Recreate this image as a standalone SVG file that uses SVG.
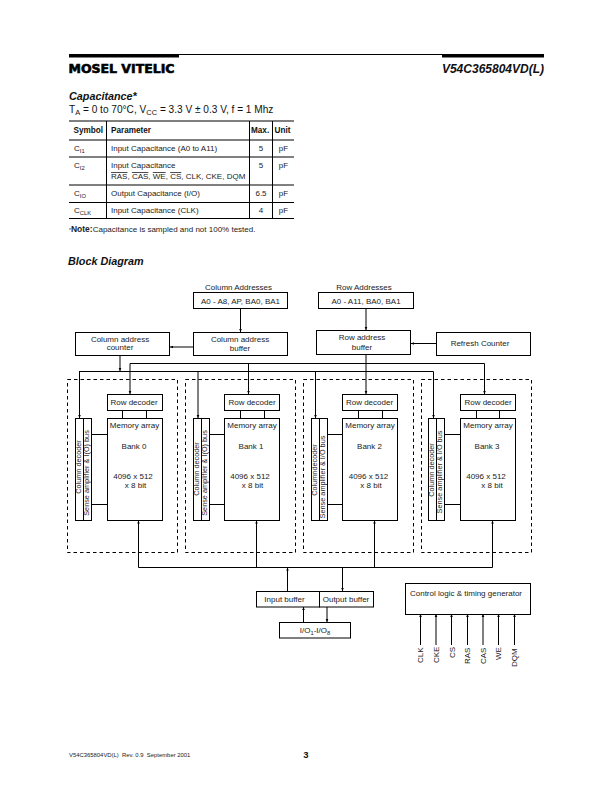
<svg xmlns="http://www.w3.org/2000/svg" width="611" height="787" viewBox="0 0 611 787">
<style>
text{font-family:"Liberation Sans",Arial,sans-serif;fill:#222;font-size:8px}
.m{text-anchor:middle}
.h{font-weight:bold;font-size:8.2px;fill:#111}
.r{font-size:7.3px}
.b{fill:#fff;stroke:#000;stroke-width:1}
.d{fill:none;stroke:#000;stroke-width:1;stroke-dasharray:3.5 3}
.c line,.c path{fill:none;stroke:#000;stroke-width:1}
.a{marker-end:url(#ah)}
.t line{stroke:#000;stroke-width:1}
.sub{font-size:5.8px}
</style>
<defs><marker id="ah" markerUnits="userSpaceOnUse" markerWidth="4" markerHeight="4" refX="3" refY="2" orient="auto"><path d="M0 .7L3 2L0 3.3Z" fill="#000"/></marker></defs>
<rect width="611" height="787" fill="#fff"/>
<g id="header">
<rect x="69" y="54" width="110" height="3.5" fill="#000"/>
<rect x="442" y="54" width="102" height="3.5" fill="#000"/>
<line x1="69" y1="54.5" x2="544" y2="54.5" stroke="#000" stroke-width="1"/>
<text x="68.5" y="73" textLength="106" lengthAdjust="spacingAndGlyphs" style="font-family:'DejaVu Sans',sans-serif;font-weight:bold;font-size:12px;fill:#000;stroke:#000;stroke-width:.6">MOSEL VITELIC</text>
<text x="544" y="73" text-anchor="end" style="font-weight:bold;font-style:italic;font-size:12px;fill:#111">V54C365804VD(L)</text>
</g>
<g id="capacitance">
<text x="69" y="100" style="font-weight:bold;font-style:italic;font-size:10.8px;fill:#111">Capacitance*</text>
<text x="69" y="113" style="font-size:10.1px;fill:#111">T<tspan dy="2" style="font-size:7.5px">A</tspan><tspan dy="-2"> = 0 to 70°C, V</tspan><tspan dy="2" style="font-size:7.5px">CC</tspan><tspan dy="-2"> = 3.3 V ± 0.3 V, f = 1 Mhz</tspan></text>
<g class="t">
<line x1="69" y1="121" x2="294" y2="121"/><line x1="69" y1="140" x2="294" y2="140"/><line x1="69" y1="157" x2="294" y2="157"/><line x1="69" y1="185" x2="294" y2="185"/><line x1="69" y1="202.5" x2="294" y2="202.5"/><line x1="69" y1="218.5" x2="294" y2="218.5"/>
<line x1="106.5" y1="121" x2="106.5" y2="218.5"/><line x1="249.5" y1="121" x2="249.5" y2="218.5"/><line x1="272.5" y1="121" x2="272.5" y2="218.5"/>
</g>
<text x="73.5" y="133" class="h">Symbol</text><text x="111" y="133" class="h">Parameter</text><text x="251" y="133" class="h">Max.</text><text x="274.5" y="133" class="h">Unit</text>
<text x="74" y="151">C<tspan dy="2" class="sub">I1</tspan></text><text x="111" y="151">Input Capacitance (A0 to A11)</text><text x="261" y="151" class="m">5</text><text x="283.5" y="151" class="m">pF</text>
<text x="74" y="168">C<tspan dy="2" class="sub">I2</tspan></text><text x="111" y="168">Input Capacitance</text><text x="261" y="168" class="m">5</text><text x="283.5" y="168" class="m">pF</text>
<text x="111" y="179"><tspan text-decoration="overline">RAS</tspan>, <tspan text-decoration="overline">CAS</tspan>, <tspan text-decoration="overline">WE</tspan>, <tspan text-decoration="overline">CS</tspan>, CLK, CKE, DQM</text>
<text x="74" y="196">C<tspan dy="2" class="sub">IO</tspan></text><text x="111" y="196">Output Capacitance (I/O)</text><text x="261" y="196" class="m">6.5</text><text x="283.5" y="196" class="m">pF</text>
<text x="74" y="213">C<tspan dy="2" class="sub">CLK</tspan></text><text x="111" y="213">Input Capacitance (CLK)</text><text x="261" y="213" class="m">4</text><text x="283.5" y="213" class="m">pF</text>
<text x="69" y="232"><tspan style="font-size:5px">*</tspan><tspan style="font-weight:bold;font-size:8.5px">Note:</tspan>Capacitance is sampled and not 100% tested.</text>
<text x="68" y="265" style="font-weight:bold;font-style:italic;font-size:10.8px;fill:#111">Block Diagram</text>
</g>
<g id="connectors" class="c">
<line x1="240.5" y1="308" x2="240.5" y2="332" class="a"/>
<line x1="193" y1="347" x2="170" y2="347" class="a"/>
<line x1="366" y1="308" x2="366" y2="330" class="a"/>
<line x1="436" y1="343.5" x2="411" y2="343.5" class="a"/>
<line x1="120" y1="355" x2="120" y2="371" class="a"/>
<line x1="130" y1="363.5" x2="484.5" y2="363.5"/>
<line x1="79" y1="371.5" x2="433.5" y2="371.5"/>
<line x1="366" y1="354" x2="366" y2="394" class="a"/>
<line x1="130" y1="363.5" x2="130" y2="394" class="a"/>
<line x1="248.5" y1="363.5" x2="248.5" y2="394" class="a"/>
<line x1="484.5" y1="363.5" x2="484.5" y2="394" class="a"/>
<line x1="79.5" y1="371.5" x2="79.5" y2="418" class="a"/>
<line x1="198" y1="371.5" x2="198" y2="418" class="a"/>
<line x1="315.5" y1="371.5" x2="315.5" y2="418" class="a"/>
<line x1="433.5" y1="371.5" x2="433.5" y2="418" class="a"/>
<path d="M122.5 410V418M146.5 410V418M240.5 410V418M264.5 410V418M358.5 410V418M382.5 410V418M476.5 410V418M499.5 410V418"/>
<path d="M91.5 434.5H107M91.5 504.5H107M209.5 434.5H225M209.5 504.5H225M326.5 434.5H342M326.5 504.5H342M444.5 434.5H460M444.5 504.5H460"/>
<line x1="138.5" y1="567.5" x2="492.5" y2="567.5"/>
<line x1="138.5" y1="567.5" x2="138.5" y2="520.5" class="a"/>
<line x1="256.5" y1="567.5" x2="256.5" y2="520.5" class="a"/>
<line x1="374.5" y1="567.5" x2="374.5" y2="520.5" class="a"/>
<line x1="492.5" y1="567.5" x2="492.5" y2="520.5" class="a"/>
<line x1="287.5" y1="591" x2="287.5" y2="567.5" class="a"/>
<line x1="342.5" y1="567.5" x2="342.5" y2="591" class="a"/>
<line x1="303.5" y1="622" x2="303.5" y2="607" class="a"/>
<line x1="327" y1="607" x2="327" y2="622" class="a"/>
<line x1="420.5" y1="645" x2="420.5" y2="614" class="a"/>
<line x1="436" y1="645" x2="436" y2="614" class="a"/>
<line x1="451.5" y1="645" x2="451.5" y2="614" class="a"/>
<line x1="467.5" y1="645" x2="467.5" y2="614" class="a"/>
<line x1="483" y1="645" x2="483" y2="614" class="a"/>
<line x1="498.5" y1="645" x2="498.5" y2="614" class="a"/>
<line x1="514.5" y1="645" x2="514.5" y2="614" class="a"/>
</g>
<g id="bank-frames">
<rect class="d" x="67.5" y="379.5" width="110" height="173"/>
<rect class="d" x="185.5" y="379.5" width="110" height="173"/>
<rect class="d" x="303.5" y="379.5" width="110" height="173"/>
<rect class="d" x="421.5" y="379.5" width="110" height="173"/>
</g>
<g id="column-addresses"><text x="238.5" y="290" class="m">Column Addresses</text><rect class="b" x="193.5" y="292.5" width="94" height="16"/><text x="240.5" y="303.5" class="m">A0 - A8, AP, BA0, BA1</text></g>
<g id="row-addresses"><text x="364" y="290" class="m">Row Addresses</text><rect class="b" x="318.5" y="292.5" width="95" height="16"/><text x="366" y="303.5" class="m">A0 - A11, BA0, BA1</text></g>
<g id="column-address-counter"><rect class="b" x="75.5" y="332.5" width="94" height="23"/><text x="120" y="341.5" class="m">Column address</text><text x="120" y="350" class="m">counter</text></g>
<g id="column-address-buffer"><rect class="b" x="193.5" y="332.5" width="94" height="23"/><text x="240" y="341.5" class="m">Column address</text><text x="240" y="351" class="m">buffer</text></g>
<g id="row-address-buffer"><rect class="b" x="316.5" y="330.5" width="94" height="24"/><text x="362" y="339.5" class="m">Row address</text><text x="362" y="349.5" class="m">buffer</text></g>
<g id="refresh-counter"><rect class="b" x="436.5" y="332.5" width="94" height="23"/><text x="480" y="346" class="m">Refresh Counter</text></g>
<g id="bank0">
<rect class="b" x="107.5" y="394.5" width="55" height="16"/><text x="134" y="405" class="m">Row decoder</text>
<rect class="b" x="107.5" y="418.5" width="55" height="102"/><text x="134.5" y="428" class="m">Memory array</text><text x="134" y="449" class="m">Bank 0</text><text x="133" y="479" class="m">4096 x 512</text><text x="135.5" y="488" class="m">x 8 bit</text>
<rect class="b" x="75.5" y="418.5" width="8" height="102"/><rect class="b" x="83.5" y="418.5" width="8" height="102"/>
<text transform="translate(81 467) rotate(-90)" class="m r">Column decoder</text><text transform="translate(89 473) rotate(-90)" class="m r">Sense amplifier &amp; I(O) bus</text>
</g>
<g id="bank1">
<rect class="b" x="224.5" y="394.5" width="55" height="16"/><text x="252" y="405" class="m">Row decoder</text>
<rect class="b" x="224.5" y="418.5" width="55" height="102"/><text x="252" y="428" class="m">Memory array</text><text x="251" y="449" class="m">Bank 1</text><text x="250" y="479" class="m">4096 x  512</text><text x="252.5" y="488" class="m">x 8 bit</text>
<rect class="b" x="193.5" y="418.5" width="8" height="102"/><rect class="b" x="201.5" y="418.5" width="8" height="102"/>
<text transform="translate(199 469) rotate(-90)" class="m r">Column decoder</text><text transform="translate(207 473) rotate(-90)" class="m r">Sense amplifier &amp; I(O) bus</text>
</g>
<g id="bank2">
<rect class="b" x="342.5" y="394.5" width="55" height="16"/><text x="369.5" y="405" class="m">Row decoder</text>
<rect class="b" x="342.5" y="418.5" width="55" height="102"/><text x="370" y="428" class="m">Memory array</text><text x="369.5" y="449" class="m">Bank 2</text><text x="368.5" y="479" class="m">4096 x 512</text><text x="371" y="488" class="m">x 8 bit</text>
<rect class="b" x="311.5" y="418.5" width="8" height="102"/><rect class="b" x="319.5" y="418.5" width="8" height="102"/>
<text transform="translate(317 470) rotate(-90)" class="m r">Columndecoder</text><text transform="translate(325 477) rotate(-90)" class="m r">Sense amplifier &amp; I/O bus</text>
</g>
<g id="bank3">
<rect class="b" x="460.5" y="394.5" width="55" height="16"/><text x="488" y="405" class="m">Row decoder</text>
<rect class="b" x="460.5" y="418.5" width="55" height="102"/><text x="488" y="428" class="m">Memory array</text><text x="487" y="449" class="m">Bank 3</text><text x="486" y="479" class="m">4096 x 512</text><text x="492" y="488" class="m">x 8 bit</text>
<rect class="b" x="428.5" y="418.5" width="8" height="102"/><rect class="b" x="436.5" y="418.5" width="8" height="102"/>
<text transform="translate(434 470) rotate(-90)" class="m r">Column decoder</text><text transform="translate(442 472) rotate(-90)" class="m r">Sense amplifier &amp; I/O bus</text>
</g>
<g id="input-buffer"><rect class="b" x="256.5" y="591.5" width="63" height="15.5"/><text x="284.5" y="602" class="m">Input buffer</text></g>
<g id="output-buffer"><rect class="b" x="319.5" y="591.5" width="54" height="15.5"/><text x="346" y="602" class="m">Output buffer</text></g>
<g id="io"><rect class="b" x="279.5" y="622.5" width="71" height="15.5"/><text x="315" y="633" class="m">I/O<tspan dy="2" class="sub">1</tspan><tspan dy="-2">-I/O</tspan><tspan dy="2" class="sub">8</tspan></text></g>
<g id="control"><rect class="b" x="405.5" y="583.5" width="125" height="31"/><text x="466" y="596" class="m">Control logic &amp; timing generator</text></g>
<g id="control-labels">
<text transform="translate(423 663) rotate(-90)">CLK</text><text transform="translate(439 663) rotate(-90)">CKE</text><text transform="translate(454.5 658) rotate(-90)">CS</text><text transform="translate(470 664) rotate(-90)">RAS</text><text transform="translate(486 664) rotate(-90)">CAS</text><text transform="translate(501 660) rotate(-90)">WE</text><text transform="translate(517 667) rotate(-90)">DQM</text>
</g>
<g id="footer">
<text x="69" y="757" xml:space="preserve" style="font-size:5.9px">V54C365804VD(L)  Rev. 0.9  September 2001</text>
<text x="306" y="758" class="m" style="font-weight:bold;font-size:9.5px;fill:#111">3</text>
</g>
</svg>
